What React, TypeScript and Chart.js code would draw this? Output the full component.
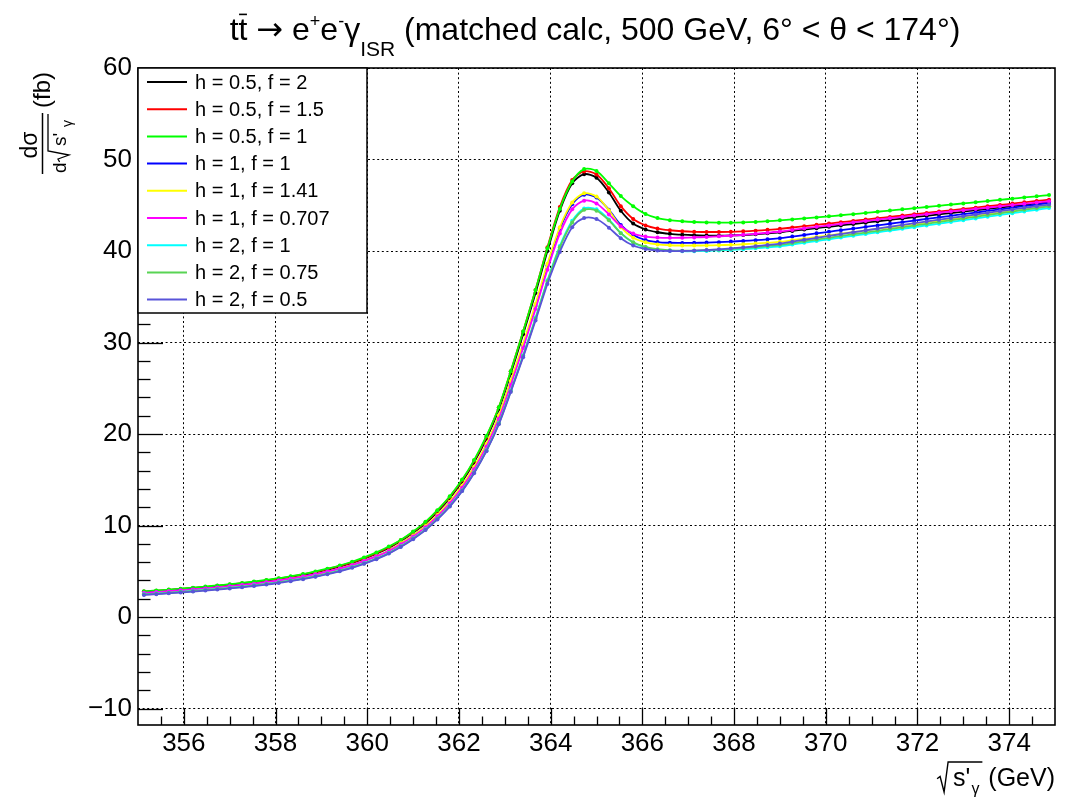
import React, { useEffect, useRef } from 'react';
import { Chart, registerables } from 'chart.js';

Chart.register(...registerables);

const FONT = "'Liberation Sans', Arial, Helvetica, sans-serif";

const xValues = [
  355.13, 355.40, 355.67, 355.93, 356.20, 356.47, 356.73, 357.00, 357.27, 357.53, 357.80, 358.07, 358.33, 358.60, 358.87,
  359.13, 359.40, 359.67, 359.93, 360.20, 360.47, 360.73, 361.00, 361.27, 361.53, 361.80, 362.07, 362.33, 362.60, 362.87,
  363.13, 363.40, 363.67, 363.93, 364.20, 364.47, 364.73, 365.00, 365.27, 365.53, 365.80, 366.07, 366.33, 366.60, 366.87,
  367.13, 367.40, 367.67, 367.93, 368.20, 368.47, 368.73, 369.00, 369.27, 369.53, 369.80, 370.07, 370.33, 370.60, 370.87,
  371.13, 371.40, 371.67, 371.93, 372.20, 372.47, 372.73, 373.00, 373.27, 373.53, 373.80, 374.07, 374.33, 374.60, 374.87,
];

const h05f2 = [
  2.75, 2.84, 2.94, 3.04, 3.15, 3.26, 3.38, 3.51, 3.65, 3.80, 3.97, 4.16, 4.37, 4.61, 4.88,
  5.18, 5.52, 5.92, 6.38, 6.92, 7.55, 8.30, 9.20, 10.25, 11.50, 13.00, 14.80, 16.90, 19.50, 22.70,
  26.60, 30.90, 35.40, 40.00, 44.40, 47.40, 48.40, 48.00, 46.40, 44.40, 43.00, 42.35, 42.05, 41.88, 41.78,
  41.72, 41.69, 41.68, 41.70, 41.75, 41.83, 41.93, 42.05, 42.20, 42.35, 42.50, 42.65, 42.80, 42.95, 43.10,
  43.25, 43.40, 43.55, 43.70, 43.85, 44.00, 44.15, 44.30, 44.45, 44.60, 44.75, 44.90, 45.05, 45.20, 45.35,
];
const h05f15 = [
  2.78, 2.87, 2.97, 3.07, 3.18, 3.29, 3.41, 3.55, 3.69, 3.84, 4.01, 4.20, 4.41, 4.66, 4.93,
  5.23, 5.58, 5.98, 6.44, 6.99, 7.63, 8.38, 9.29, 10.35, 11.62, 13.13, 14.95, 17.07, 19.70, 22.93,
  26.87, 31.21, 35.75, 40.40, 44.80, 47.75, 48.70, 48.35, 46.85, 44.90, 43.50, 42.80, 42.45, 42.27, 42.16,
  42.10, 42.08, 42.08, 42.10, 42.15, 42.22, 42.31, 42.42, 42.57, 42.71, 42.86, 43.00, 43.15, 43.29, 43.44,
  43.58, 43.73, 43.87, 44.02, 44.16, 44.31, 44.45, 44.60, 44.74, 44.89, 45.03, 45.18, 45.32, 45.47, 45.61,
];
const h05f1 = [
  2.81, 2.90, 3.00, 3.10, 3.21, 3.33, 3.45, 3.58, 3.72, 3.88, 4.05, 4.24, 4.46, 4.70, 4.98,
  5.28, 5.63, 6.04, 6.51, 7.06, 7.70, 8.42, 9.34, 10.40, 11.67, 13.20, 15.02, 17.15, 19.79, 22.93,
  26.87, 31.21, 35.75, 40.30, 44.60, 47.60, 48.95, 48.75, 47.40, 46.00, 44.90, 44.05, 43.60, 43.37, 43.25,
  43.17, 43.12, 43.10, 43.10, 43.12, 43.18, 43.26, 43.35, 43.45, 43.56, 43.67, 43.79, 43.91, 44.03, 44.16,
  44.29, 44.42, 44.55, 44.68, 44.81, 44.94, 45.07, 45.20, 45.33, 45.46, 45.59, 45.72, 45.85, 45.98, 46.11,
];
const h1f1 = [
  2.62, 2.71, 2.80, 2.90, 3.01, 3.12, 3.23, 3.36, 3.49, 3.64, 3.80, 3.99, 4.20, 4.43, 4.68,
  4.97, 5.30, 5.68, 6.12, 6.64, 7.25, 8.01, 8.88, 9.89, 11.10, 12.55, 14.28, 16.31, 18.82, 21.91,
  25.67, 29.66, 33.98, 38.40, 42.40, 45.10, 46.15, 45.85, 44.50, 42.85, 41.75, 41.20, 40.98, 40.90, 40.88,
  40.89, 40.92, 40.97, 41.03, 41.10, 41.18, 41.28, 41.40, 41.58, 41.75, 41.93, 42.10, 42.28, 42.45, 42.63,
  42.80, 42.98, 43.15, 43.33, 43.50, 43.68, 43.85, 44.03, 44.20, 44.38, 44.55, 44.73, 44.90, 45.08, 45.25,
];
const h1f141 = [
  2.60, 2.69, 2.78, 2.88, 2.99, 3.10, 3.21, 3.34, 3.48, 3.62, 3.78, 3.97, 4.18, 4.41, 4.67,
  4.96, 5.29, 5.67, 6.12, 6.64, 7.25, 8.05, 8.92, 9.94, 11.16, 12.61, 14.36, 16.39, 18.92, 22.02,
  25.80, 29.85, 34.20, 38.60, 42.60, 45.30, 46.30, 45.95, 44.45, 42.60, 41.45, 40.95, 40.72, 40.63, 40.60,
  40.60, 40.61, 40.64, 40.68, 40.74, 40.81, 40.90, 41.00, 41.18, 41.35, 41.53, 41.71, 41.89, 42.06, 42.24,
  42.42, 42.59, 42.77, 42.95, 43.12, 43.30, 43.48, 43.66, 43.83, 44.01, 44.19, 44.36, 44.54, 44.72, 44.89,
];
const h1f0707 = [
  2.64, 2.73, 2.82, 2.92, 3.02, 3.13, 3.24, 3.37, 3.50, 3.65, 3.81, 3.99, 4.19, 4.42, 4.68,
  4.97, 5.29, 5.67, 6.11, 6.62, 7.22, 7.94, 8.80, 9.80, 11.00, 12.43, 14.14, 16.15, 18.62, 21.66,
  25.35, 29.40, 33.65, 37.95, 41.90, 44.55, 45.50, 45.20, 44.00, 42.70, 41.90, 41.58, 41.47, 41.44, 41.45,
  41.48, 41.53, 41.60, 41.68, 41.77, 41.88, 42.00, 42.13, 42.30, 42.47, 42.64, 42.80, 42.96, 43.12, 43.28,
  43.43, 43.58, 43.73, 43.88, 44.03, 44.18, 44.32, 44.46, 44.60, 44.74, 44.88, 45.02, 45.16, 45.30, 45.44,
];
const h2f1 = [
  2.48, 2.56, 2.65, 2.75, 2.85, 2.96, 3.07, 3.19, 3.32, 3.46, 3.62, 3.80, 3.99, 4.21, 4.46,
  4.75, 5.07, 5.45, 5.88, 6.39, 6.99, 7.72, 8.58, 9.58, 10.75, 12.16, 13.84, 15.80, 18.23, 21.20,
  24.75, 28.60, 32.70, 36.80, 40.55, 43.30, 44.65, 44.55, 43.45, 41.95, 40.90, 40.40, 40.15, 40.03, 39.98,
  39.98, 40.01, 40.06, 40.12, 40.20, 40.29, 40.40, 40.52, 40.71, 40.90, 41.09, 41.28, 41.47, 41.66, 41.85,
  42.04, 42.23, 42.42, 42.61, 42.80, 42.99, 43.18, 43.37, 43.56, 43.75, 43.94, 44.13, 44.32, 44.51, 44.70,
];
const h2f075 = [
  2.46, 2.54, 2.63, 2.73, 2.83, 2.94, 3.05, 3.17, 3.30, 3.44, 3.60, 3.78, 3.97, 4.19, 4.44,
  4.73, 5.05, 5.43, 5.86, 6.37, 6.97, 7.70, 8.56, 9.55, 10.72, 12.12, 13.80, 15.76, 18.18, 21.14,
  24.68, 28.52, 32.60, 36.68, 40.40, 43.12, 44.50, 44.40, 43.35, 41.95, 40.95, 40.45, 40.20, 40.08, 40.04,
  40.05, 40.09, 40.15, 40.23, 40.32, 40.43, 40.55, 40.68, 40.87, 41.06, 41.25, 41.44, 41.64, 41.83, 42.02,
  42.21, 42.40, 42.59, 42.78, 42.97, 43.16, 43.36, 43.55, 43.74, 43.93, 44.12, 44.31, 44.50, 44.70, 44.89,
];
const h2f05 = [
  2.42, 2.50, 2.59, 2.68, 2.78, 2.89, 3.00, 3.12, 3.25, 3.39, 3.55, 3.72, 3.92, 4.14, 4.39,
  4.68, 5.00, 5.38, 5.81, 6.32, 6.93, 7.65, 8.51, 9.50, 10.67, 12.07, 13.76, 15.72, 18.13, 21.07,
  24.60, 28.40, 32.40, 36.40, 39.90, 42.60, 43.60, 43.50, 42.55, 41.40, 40.60, 40.22, 40.05, 40.00, 40.00,
  40.04, 40.10, 40.18, 40.28, 40.39, 40.52, 40.66, 40.81, 41.02, 41.23, 41.44, 41.65, 41.85, 42.05, 42.25,
  42.45, 42.65, 42.85, 43.04, 43.23, 43.42, 43.61, 43.80, 43.99, 44.18, 44.36, 44.54, 44.72, 44.90, 45.08,
];

const seriesLabels = [
  'h = 0.5, f = 2', 'h = 0.5, f = 1.5', 'h = 0.5, f = 1',
  'h = 1, f = 1', 'h = 1, f = 1.41', 'h = 1, f = 0.707',
  'h = 2, f = 1', 'h = 2, f = 0.75', 'h = 2, f = 0.5',
];
const seriesValues = [h05f2, h05f15, h05f1, h1f1, h1f141, h1f0707, h2f1, h2f075, h2f05];
const seriesColors = [
  '#000000', '#ff0000', '#00ff00', '#0000ff', '#ffff00', '#ff00ff', '#00ffff', '#59d454', '#5954d9',
];

const xTickValues = [356, 358, 360, 362, 364, 366, 368, 370, 372, 374];
const yTickValues = [-10, 0, 10, 20, 30, 40, 50, 60];
const X_MIN = 355;
const X_MAX = 375;
const Y_MIN = -11.8;
const Y_MAX = 60;

function radical(ctx: CanvasRenderingContext2D, x0: number, yBase: number, yTop: number, endX: number) {
  const h = yBase - yTop;
  ctx.beginPath();
  ctx.moveTo(x0, yBase - 0.42 * h);
  ctx.lineTo(x0 + 3, yBase - 0.5 * h);
  ctx.lineTo(x0 + 7, yBase + 1);
  ctx.lineTo(x0 + 11, yTop);
  ctx.lineTo(endX, yTop);
  ctx.stroke();
}

type Piece = { t: string; size: number; dy: number; bar?: boolean; font?: string };

function drawPieces(ctx: CanvasRenderingContext2D, pieces: Piece[], x: number, y: number) {
  let cx = x;
  for (const p of pieces) {
    ctx.font = `${p.size}px ${p.font || FONT}`;
    ctx.textAlign = 'left';
    ctx.textBaseline = 'alphabetic';
    ctx.fillText(p.t, cx, y + p.dy);
    const w = ctx.measureText(p.t).width;
    if (p.bar) {
      ctx.beginPath();
      ctx.lineWidth = 1.6;
      ctx.moveTo(cx + 0.5, y + p.dy - p.size * 0.8);
      ctx.lineTo(cx + w - 0.5, y + p.dy - p.size * 0.8);
      ctx.stroke();
    }
    cx += w;
  }
  return cx;
}

function piecesWidth(ctx: CanvasRenderingContext2D, pieces: Piece[]) {
  let w = 0;
  for (const p of pieces) {
    ctx.font = `${p.size}px ${p.font || FONT}`;
    w += ctx.measureText(p.t).width;
  }
  return w;
}

const decorPlugin = {
  id: 'decor',
  afterDraw(chart: any) {
    const ctx: CanvasRenderingContext2D = chart.ctx;
    const { left, right, top, bottom } = chart.chartArea;
    const xs = chart.scales.x;
    const ys = chart.scales.y;
    ctx.save();
    ctx.strokeStyle = '#000';
    ctx.fillStyle = '#000';

    // tick marks (inside the frame)
    ctx.lineWidth = 1.3;
    for (let k = 1; k < 40; k++) {
      const v = X_MIN + k * 0.5;
      const px = Math.round(xs.getPixelForValue(v)) + 0.5;
      const major = xTickValues.includes(v);
      const len = major ? 17 : 8.5;
      ctx.beginPath();
      ctx.moveTo(px, bottom);
      ctx.lineTo(px, bottom - len);
      ctx.stroke();
    }
    for (let v = -10; v < 60; v += 2) {
      const py = Math.round(ys.getPixelForValue(v)) + 0.5;
      const major = yTickValues.includes(v);
      const len = major ? 25 : 12.5;
      ctx.beginPath();
      ctx.moveTo(left, py);
      ctx.lineTo(left + len, py);
      ctx.stroke();
    }

    // frame
    ctx.lineWidth = 1.6;
    ctx.strokeRect(left, top, right - left, bottom - top);

    // legend
    const lx = left, ly = top, lw = 229, lh = 245;
    ctx.fillStyle = '#fff';
    ctx.fillRect(lx, ly, lw, lh);
    ctx.lineWidth = 1.5;
    ctx.strokeStyle = '#000';
    ctx.strokeRect(lx, ly, lw, lh);
    ctx.font = `20px ${FONT}`;
    ctx.textBaseline = 'middle';
    ctx.textAlign = 'left';
    seriesLabels.forEach((lab, i) => {
      const cy = ly + 14 + i * 27.2;
      ctx.strokeStyle = seriesColors[i];
      ctx.lineWidth = 2;
      ctx.beginPath();
      ctx.moveTo(lx + 9, cy);
      ctx.lineTo(lx + 49, cy);
      ctx.stroke();
      ctx.fillStyle = '#000';
      ctx.fillText(lab, lx + 57, cy + 1);
    });

    // title
    ctx.fillStyle = '#000';
    ctx.strokeStyle = '#000';
    const T = 32;
    const titlePieces: Piece[] = [
      { t: 't', size: T, dy: 0 },
      { t: 't', size: T, dy: 0, bar: true },
      { t: ' ', size: T, dy: 0 },
      { t: '\u2192', size: T, dy: 0, font: "'DejaVu Sans', sans-serif" },
      { t: ' e', size: T, dy: 0 },
      { t: '+', size: 18, dy: -13 },
      { t: 'e', size: T, dy: 0 },
      { t: '-', size: 18, dy: -13 },
      { t: '\u03b3', size: T, dy: 0 },
      { t: 'ISR', size: 21, dy: 16 },
      { t: ' (matched calc, 500 GeV, 6\u00b0 < \u03b8 < 174\u00b0)', size: T, dy: 0 },
    ];
    const tw = piecesWidth(ctx, titlePieces);
    drawPieces(ctx, titlePieces, 595 - tw / 2, 40);

    // x-axis title: sqrt(s'_gamma) (GeV)
    ctx.font = `25px ${FONT}`;
    const gev = ' (GeV)';
    const gevW = ctx.measureText(gev).width;
    const xBase = 786;
    const gevX = right - gevW;
    ctx.textAlign = 'left';
    ctx.textBaseline = 'alphabetic';
    ctx.fillText(gev, gevX, xBase);
    ctx.font = `16px ${FONT}`;
    const gW = ctx.measureText('\u03b3').width;
    const gX = gevX - gW - 2;
    ctx.fillText('\u03b3', gX, xBase + 8);
    ctx.font = `25px ${FONT}`;
    const sW = ctx.measureText("s'").width;
    const sX = gX - sW - 1;
    ctx.fillText("s'", sX, xBase);
    ctx.lineWidth = 1.4;
    radical(ctx, sX - 16, xBase + 5, 762, gX + gW + 3);

    // y-axis title (rotated)
    ctx.rotate(-Math.PI / 2);
    // rotated coords: (a, b) -> page (x = b, y = -a)
    ctx.fillStyle = '#000';
    ctx.strokeStyle = '#000';
    ctx.font = `23px ${FONT}`;
    ctx.textAlign = 'center';
    ctx.fillText('d\u03c3', -145, 37);
    ctx.lineWidth = 1.5;
    ctx.beginPath();
    ctx.moveTo(-174, 42.5);
    ctx.lineTo(-113, 42.5);
    ctx.stroke();
    ctx.textAlign = 'left';
    ctx.font = `19px ${FONT}`;
    ctx.fillText('d', -173, 66);
    ctx.fillText("s'", -146, 66);
    ctx.font = `14px ${FONT}`;
    ctx.fillText('\u03b3', -127, 72);
    ctx.lineWidth = 1.3;
    radical(ctx, -162, 68, 48, -114);
    ctx.font = `24px ${FONT}`;
    ctx.fillText('(fb)', -108, 50);

    ctx.restore();
  },
};

export default function App() {
  const ref = useRef<HTMLCanvasElement>(null);
  useEffect(() => {
    document.body.style.margin = '0';
    const canvas = ref.current!;
    const datasets = seriesValues.map((vals, i) => ({
      label: seriesLabels[i],
      data: xValues.map((x, j) => ({ x, y: vals[j] })),
      borderColor: seriesColors[i],
      backgroundColor: seriesColors[i],
      pointBackgroundColor: seriesColors[i],
      pointBorderWidth: 0,
      pointRadius: 2,
      borderWidth: 1.8,
      tension: 0.3,
      fill: false,
      order: seriesValues.length - i,
    }));
    const tickFont = { family: FONT, size: 26 };
    const chart = new Chart(canvas, {
      type: 'line',
      data: { datasets },
      plugins: [decorPlugin],
      options: {
        responsive: false,
        animation: false,
        devicePixelRatio: 1,
        layout: { padding: { left: 0, right: 28, top: 68, bottom: 0 } },
        plugins: { legend: { display: false }, tooltip: { enabled: false }, title: { display: false } },
        scales: {
          x: {
            type: 'linear',
            min: X_MIN,
            max: X_MAX,
            afterBuildTicks: (s: any) => { s.ticks = xTickValues.map((v) => ({ value: v })); },
            afterFit: (s: any) => { s.height = 75; },
            ticks: {
              font: tickFont, color: '#000', padding: 3, maxRotation: 0, autoSkip: false,
              callback: (v: any) => String(v),
            },
            grid: { color: '#000', lineWidth: 1, drawTicks: false },
            border: { display: false, dash: [2, 2.6] },
          },
          y: {
            type: 'linear',
            min: Y_MIN,
            max: Y_MAX,
            afterBuildTicks: (s: any) => { s.ticks = yTickValues.map((v) => ({ value: v })); },
            afterFit: (s: any) => { s.width = 138; },
            ticks: {
              font: tickFont, color: '#000', padding: 6, autoSkip: false,
              callback: (v: any) => (v < 0 ? '\u2212' + Math.abs(v) : String(v)),
            },
            grid: { color: '#000', lineWidth: 1, drawTicks: false },
            border: { display: false, dash: [2, 2.6] },
          },
        },
      } as any,
    });
    return () => chart.destroy();
  }, []);
  return <canvas ref={ref} width={1083} height={800} style={{ display: 'block' }} />;
}
